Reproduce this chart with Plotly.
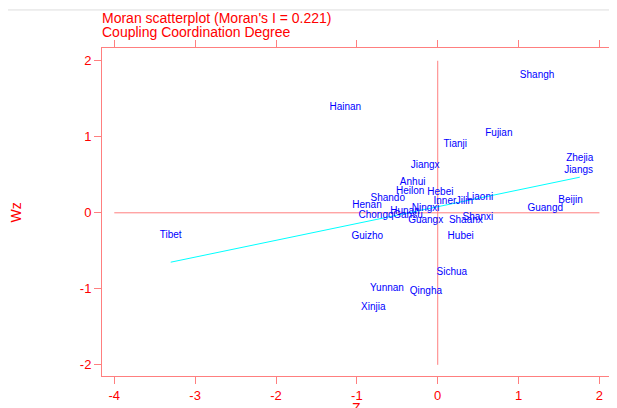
import plotly.graph_objects as go

# ---- data ----
province_labels = ["Shangh", "Hainan", "Fujian", "Tianji", "Jiangx", "Zhejia", "Jiangs",
                   "Anhui", "Heilon", "Hebei", "Shando", "Inner", "Jilin", "Liaoni",
                   "Henan", "Ningxi", "Chongq", "Hunan", "Gansu", "Guangx", "Shaanx",
                   "Shanxi", "Guizho", "Hubei", "Tibet", "Sichua", "Yunnan", "Qingha",
                   "Xinjia", "Beijin", "Guangd"]
z_values = [1.229, -1.143, 0.756, 0.216, -0.156, 1.757, 1.742,
            -0.310, -0.340, 0.033, -0.618, 0.089, 0.330, 0.521,
            -0.875, -0.149, -0.763, -0.405, -0.368, -0.149, 0.348,
            0.497, -0.871, 0.284, -3.302, 0.175, -0.628, -0.146,
            -0.797, 1.642, 1.330]
wz_values = [1.804, 1.388, 1.037, 0.892, 0.620, 0.708, 0.563,
             0.401, 0.274, 0.264, 0.186, 0.155, 0.146, 0.204,
             0.093, 0.054, -0.038, 0.017, -0.029, -0.099, -0.099,
             -0.068, -0.309, -0.314, -0.296, -0.783, -0.993, -1.038,
             -1.243, 0.168, 0.059]
moran_i = 0.221
fit_intercept = 0.08

x_tick_values = [-4, -3, -2, -1, 0, 1, 2]
x_tick_labels = ["-4", "-3", "-2", "-1", "0", "1", "2"]
y_tick_values = [-2, -1, 0, 1, 2]
y_tick_labels = ["-2", "-1", "0", "1", "2"]

title_line1 = "Moran scatterplot (Moran's I = 0.221)"
title_line2 = "Coupling Coordination Degree"
x_title = "Z"
y_title = "Wz"

FONT = "Liberation Sans, Arial, sans-serif"
RED = "#FF0000"
LIGHT_RED = "#FF7F7F"

fig = go.Figure()

# regression line (slope = Moran's I)
zmin, zmax = min(z_values), max(z_values)
fig.add_trace(go.Scatter(
    x=[zmin, zmax],
    y=[fit_intercept + moran_i * zmin, fit_intercept + moran_i * zmax],
    mode="lines", line=dict(color="#00FFFF", width=1), hoverinfo="skip",
    showlegend=False))

# labels at points
fig.add_trace(go.Scatter(
    x=z_values, y=wz_values, text=province_labels, mode="text",
    textposition="middle center",
    textfont=dict(family=FONT, size=10, color="#0000FF"),
    showlegend=False))

# reference lines
fig.add_shape(type="line", xref="x", yref="y",
              x0=x_tick_values[0], x1=x_tick_values[-1], y0=0, y1=0,
              line=dict(color=LIGHT_RED, width=1), layer="below")
fig.add_shape(type="line", xref="x", yref="y",
              x0=0, x1=0, y0=y_tick_values[0], y1=y_tick_values[-1],
              line=dict(color=LIGHT_RED, width=1), layer="below")

# light gray line at top of page
fig.add_shape(type="line", xref="paper", yref="paper",
              x0=-0.19, x1=1.02, y0=1.116, y1=1.116,
              line=dict(color="#DDDDDD", width=1))

# titles
fig.add_annotation(text=title_line1, xref="paper", yref="paper", x=-0.003, y=1.09,
                   xanchor="left", yanchor="middle", showarrow=False,
                   font=dict(family=FONT, size=14, color=RED))
fig.add_annotation(text=title_line2, xref="paper", yref="paper", x=-0.003, y=1.0488,
                   xanchor="left", yanchor="middle", showarrow=False,
                   font=dict(family=FONT, size=14, color=RED))
fig.add_annotation(text=x_title, xref="paper", yref="paper", x=0.5, y=-0.098,
                   xanchor="center", yanchor="middle", showarrow=False,
                   font=dict(family=FONT, size=14, color=RED))
fig.add_annotation(text=y_title, xref="paper", yref="paper", x=-0.168, y=0.5,
                   xanchor="center", yanchor="middle", showarrow=False, textangle=-90,
                   font=dict(family=FONT, size=14, color=RED))

axis_common = dict(showgrid=False, zeroline=False, showline=True, linecolor=LIGHT_RED,
                   linewidth=1, mirror="ticks", ticks="outside", ticklen=7,
                   tickcolor=LIGHT_RED, tickwidth=1, automargin=False,
                   tickfont=dict(family=FONT, size=13, color=RED))

fig.update_layout(
    width=609, height=400,
    margin=dict(l=94, r=6, t=40, b=32),
    paper_bgcolor="white", plot_bgcolor="white",
    xaxis=dict(range=[-4.152, 2.143], tickmode="array", tickvals=x_tick_values,
               ticktext=x_tick_labels, **axis_common),
    yaxis=dict(range=[-2.147, 2.168], tickmode="array", tickvals=y_tick_values,
               ticktext=y_tick_labels, **axis_common),
    showlegend=False,
)

fig.write_html("out.html", config={"displayModeBar": False})
